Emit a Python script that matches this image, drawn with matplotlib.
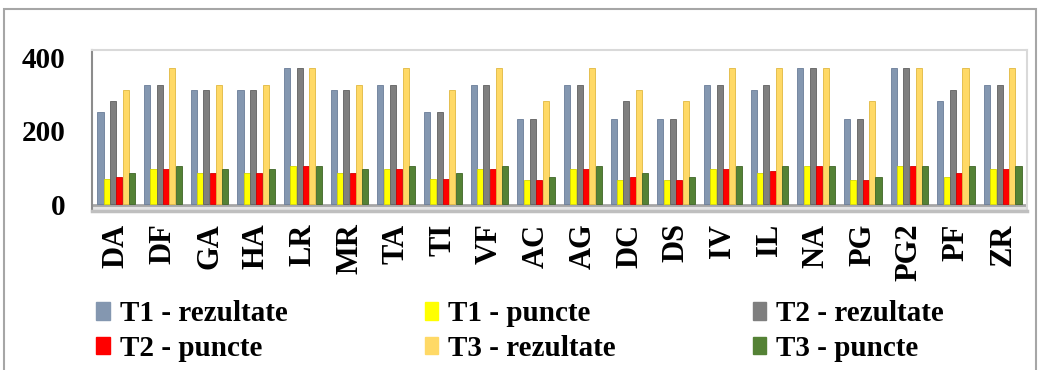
import numpy as np
import matplotlib
matplotlib.use("Agg")
import matplotlib.pyplot as plt
from matplotlib.patches import Rectangle, Patch

plt.rcParams['font.family'] = ['Liberation Serif', 'DejaVu Serif']
plt.rcParams['font.weight'] = 'bold'

categorii = ["DA", "DF", "GA", "HA", "LR", "MR", "TA", "TI", "VF", "AC",
             "AG", "DC", "DS", "IV", "IL", "NA", "PG", "PG2", "PF", "ZR"]

t1_rezultate = [250, 325, 310, 310, 370, 310, 325, 250, 325, 233,
                325, 233, 233, 325, 310, 370, 233, 370, 280, 325]
t1_puncte = [70, 95, 85, 85, 105, 85, 95, 70, 95, 65,
             95, 65, 65, 95, 85, 105, 65, 105, 75, 95]
t2_rezultate = [280, 325, 310, 310, 370, 310, 325, 250, 325, 233,
                325, 280, 233, 325, 325, 370, 233, 370, 310, 325]
t2_puncte = [75, 95, 85, 85, 105, 85, 95, 70, 95, 65,
             95, 75, 65, 95, 90, 105, 65, 105, 85, 95]
t3_rezultate = [310, 370, 325, 325, 370, 325, 370, 310, 370, 280,
                370, 310, 280, 370, 370, 370, 280, 370, 370, 370]
t3_puncte = [85, 105, 95, 95, 105, 95, 105, 85, 105, 75,
             105, 85, 75, 105, 105, 105, 75, 105, 105, 105]

# (eticheta, valori, culoare, contur)
serii = [
    ("T1 - rezultate", t1_rezultate, "#8497b0", "#6a7d98"),
    ("T1 - puncte", t1_puncte, "#ffff00", "#d6d600"),
    ("T2 - rezultate", t2_rezultate, "#7f7f7f", "#606060"),
    ("T2 - puncte", t2_puncte, "#ff0000", "#d00000"),
    ("T3 - rezultate", t3_rezultate, "#ffd966", "#e0b840"),
    ("T3 - puncte", t3_puncte, "#548235", "#3f6627"),
]

W, H = 1038, 370
fig = plt.figure(figsize=(W / 100, H / 100), dpi=100)

# chenarul exterior al diagramei
fig.patches.append(Rectangle((4 / W, -0.01), 1032 / W, (H - 9) / H + 0.01,
                             transform=fig.transFigure, fill=False,
                             edgecolor="#a6a6a6", linewidth=1.5))

ax = fig.add_axes([92 / W, (H - 211) / H, 935 / W, 161 / H])
x = np.arange(len(categorii))
pas = 0.135
latime = 0.13

# podeaua graficului
ax.axhspan(-18, -1, color="#e4e4e4", zorder=0)
ax.axhline(-3, color="#a6a6a6", linewidth=2, zorder=1)

for k, (nume, valori, culoare, contur) in enumerate(serii):
    ax.bar(x + (k - 2.5) * pas, valori, width=latime, color=culoare,
           edgecolor=contur, linewidth=0.6, zorder=3, label=nume)

ax.set_xlim(-0.52, len(categorii) - 0.48)
ax.set_ylim(-18, 420)
ax.set_yticks([0, 200, 400])
ax.set_xticks(x)
ax.set_xticklabels(categorii, rotation=90, fontsize=22, fontweight='bold')
ax.tick_params(axis='y', length=0, pad=19, labelsize=21)
ax.tick_params(axis='x', length=0, pad=9)

for s in ["top", "right"]:
    ax.spines[s].set_color("#d9d9d9")
    ax.spines[s].set_linewidth(1.5)
ax.spines["left"].set_color("#8c8c8c")
ax.spines["left"].set_linewidth(1.5)
ax.spines["bottom"].set_color("#bfbfbf")
ax.spines["bottom"].set_linewidth(2.5)

# legenda pe trei coloane, completata pe randuri
ordine = [0, 3, 1, 4, 2, 5]
handles = [Patch(color=serii[i][2]) for i in ordine]
labels = [serii[i][0] for i in ordine]
fig.legend(handles, labels, ncol=3, loc="upper left",
           bbox_to_anchor=(76 / W, (H - 280) / H), frameon=False,
           fontsize=21, handlelength=0.45, handleheight=0.55,
           handletextpad=0.35, columnspacing=4.7, labelspacing=0.25,
           borderpad=0.2)

fig.savefig("out.png", dpi=100)
